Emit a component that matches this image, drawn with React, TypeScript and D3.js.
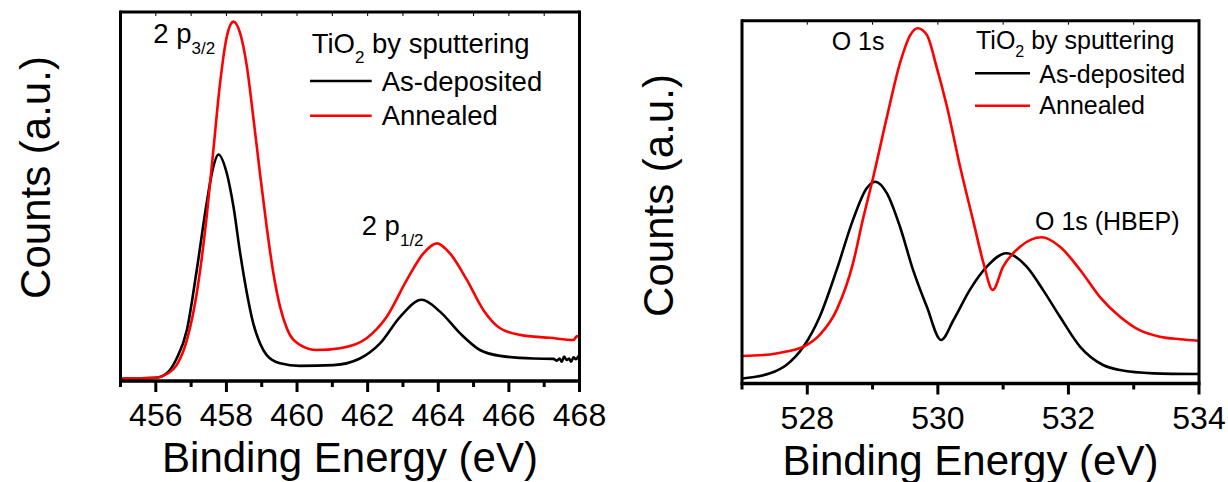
import React from 'react';
import * as d3 from 'd3';

// ---------- Ti 2p panel data (binding energy eV, counts a.u.) ----------
const tiAsDepEnergy = [455.0, 456.0, 456.31, 456.59, 456.88, 457.16, 457.44, 457.63, 457.77, 458.01, 458.2, 458.39, 458.58, 458.76, 458.95, 459.14, 459.52, 460.08, 461.03, 461.78, 462.35, 462.92, 463.53, 464.05, 464.62, 465.18, 465.75, 466.69, 467.26, 467.36, 467.43, 467.5, 467.56, 467.64, 467.71, 467.76, 467.83, 467.9, 467.97];
const tiAsDepCounts = [0.7, 0.9, 2.1, 6.1, 13.8, 30.1, 48.2, 58.1, 61.4, 56.3, 47.2, 34.6, 23.8, 15.6, 10.2, 7.0, 4.8, 4.1, 4.3, 6.1, 10.2, 17.4, 22.0, 18.8, 12.9, 8.4, 6.8, 6.1, 6.0, 5.5, 6.1, 5.2, 6.6, 5.7, 6.1, 5.2, 6.4, 5.9, 6.8];

const tiAnnEnergy = [455.0, 456.0, 456.31, 456.59, 456.88, 457.16, 457.44, 457.63, 457.82, 458.01, 458.2, 458.39, 458.58, 458.76, 458.95, 459.14, 459.33, 459.52, 459.71, 460.08, 460.56, 461.22, 461.97, 462.54, 463.11, 463.58, 463.96, 464.33, 464.81, 465.28, 465.75, 466.32, 467.17, 467.83, 467.93, 467.99];
const tiAnnCounts = [0.7, 0.9, 1.9, 4.3, 11.1, 23.8, 44.5, 62.6, 80.7, 93.3, 97.4, 94.2, 85.2, 71.6, 56.3, 41.8, 29.2, 20.1, 14.3, 9.8, 8.4, 8.9, 11.6, 17.4, 27.4, 34.6, 37.3, 34.6, 27.4, 19.2, 14.3, 12.5, 11.7, 11.1, 12.2, 11.8];

const tiMajorTicks = [456, 458, 460, 462, 464, 466, 468];
const tiMinorTicks = [455, 457, 459, 461, 463, 465, 467];
const tiTopTicks = [456, 457, 458, 459, 460, 461, 462, 463, 464, 465, 466, 467];

// ---------- O 1s panel data ----------
const oAsDepEnergy = [527.0, 527.43, 527.68, 527.94, 528.19, 528.45, 528.7, 528.91, 529.04, 529.22, 529.42, 529.62, 529.83, 530.05, 530.24, 530.49, 530.75, 531.05, 531.36, 531.61, 531.87, 532.18, 532.53, 532.79, 533.3, 533.99];
const oAsDepCounts = [1.4, 2.8, 5.1, 10.1, 18.4, 31.3, 45.1, 53.8, 55.6, 52.4, 43.2, 31.3, 21.2, 12.0, 17.5, 25.8, 32.2, 35.9, 32.2, 25.8, 18.4, 10.1, 5.1, 3.7, 2.8, 2.6];

const oAnnEnergy = [527.0, 527.43, 527.68, 527.96, 528.19, 528.45, 528.7, 528.85, 529.0, 529.22, 529.42, 529.58, 529.69, 529.83, 529.98, 530.14, 530.34, 530.55, 530.7, 530.84, 531.0, 531.26, 531.59, 531.87, 532.18, 532.48, 532.79, 533.09, 533.4, 533.71, 533.99];
const oAnnCounts = [7.6, 8.0, 8.8, 10.3, 13.4, 20.3, 33.1, 45.1, 56.1, 73.5, 88.3, 96.1, 97.9, 96.1, 87.3, 76.3, 59.8, 44.2, 33.1, 25.8, 32.2, 37.7, 40.3, 37.7, 31.3, 23.9, 18.4, 14.7, 12.9, 12.2, 11.8];

const oMajorTicks = [528, 530, 532, 534];
const oMinorTicks = [527, 529, 531, 533];
const oTopTicks = [528, 529, 530, 531, 532, 533];

const FONT = "'Liberation Sans', Arial, Helvetica, sans-serif";

type Series = { energy: number[]; counts: number[]; color: string };

type PanelProps = {
  left: number;
  right: number;
  top: number;
  bottom: number;
  xDomain: [number, number];
  major: number[];
  minor: number[];
  topTicks: number[];
  series: Series[];
  countsX: number;
  countsY: number;
};

function Panel(p: PanelProps) {
  const x = d3.scaleLinear().domain(p.xDomain).range([p.left, p.right]);
  const y = d3.scaleLinear().domain([0, 100]).range([p.bottom, p.top]);
  const line = (s: Series) =>
    d3
      .line<number>()
      .x((_, i) => x(s.energy[i]))
      .y((d) => y(d))
      .curve(d3.curveMonotoneX)(s.counts) || '';
  return (
    <g>
      {p.series.map((s, i) => (
        <path key={i} d={line(s)} fill="none" stroke={s.color} strokeWidth={2.6} strokeLinejoin="round" />
      ))}
      {/* frame */}
      <line x1={p.left} x2={p.right} y1={p.top} y2={p.top} stroke="#000" strokeWidth={3} />
      <line x1={p.left} x2={p.left} y1={p.top - 1.5} y2={p.bottom} stroke="#000" strokeWidth={3} />
      <line x1={p.right} x2={p.right} y1={p.top - 1.5} y2={p.bottom} stroke="#000" strokeWidth={3} />
      <line x1={p.left - 1.5} x2={p.right + 1.5} y1={p.bottom} y2={p.bottom} stroke="#000" strokeWidth={3.5} />
      {p.topTicks.map((t) => (
        <line key={'tt' + t} x1={x(t)} x2={x(t)} y1={p.top} y2={p.top + 4} stroke="#000" strokeWidth={1} />
      ))}
      {p.major.map((t) => (
        <line key={'mj' + t} x1={x(t)} x2={x(t)} y1={p.bottom} y2={p.bottom + 11} stroke="#000" strokeWidth={3} />
      ))}
      {p.minor.map((t) => (
        <line key={'mn' + t} x1={x(t)} x2={x(t)} y1={p.bottom} y2={p.bottom + 6} stroke="#000" strokeWidth={3} />
      ))}
      {p.major.map((t) => (
        <text key={'lb' + t} x={x(t)} y={p.bottom + 45} fontSize={32} textAnchor="middle" fontFamily={FONT}>
          {t}
        </text>
      ))}
      <text x={(p.left + p.right) / 2} y={p.bottom + 91} fontSize={42} textAnchor="middle" fontFamily={FONT}>
        Binding Energy (eV)
      </text>
      <text
        transform={`translate(${p.countsX},${p.countsY}) rotate(-90)`}
        fontSize={42}
        textAnchor="middle"
        fontFamily={FONT}
      >
        Counts (a.u.)
      </text>
    </g>
  );
}

export default function App() {
  return (
    <svg
      width={1228}
      height={482}
      viewBox="0 0 1228 482"
      style={{ position: 'absolute', left: 0, top: 0, background: '#fff' }}
      fontFamily={FONT}
    >
      <rect x={0} y={0} width={1228} height={482} fill="#fff" />
      <Panel
        left={120.5}
        right={579.5}
        top={12}
        bottom={381}
        xDomain={[455, 468]}
        major={tiMajorTicks}
        minor={tiMinorTicks}
        topTicks={tiTopTicks}
        series={[
          { energy: tiAsDepEnergy, counts: tiAsDepCounts, color: '#000000' },
          { energy: tiAnnEnergy, counts: tiAnnCounts, color: '#ff0000' },
        ]}
        countsX={49.5}
        countsY={177.5}
      />
      <Panel
        left={742}
        right={1199}
        top={20.7}
        bottom={383.5}
        xDomain={[527, 534]}
        major={oMajorTicks}
        minor={oMinorTicks}
        topTicks={oTopTicks}
        series={[
          { energy: oAsDepEnergy, counts: oAsDepCounts, color: '#000000' },
          { energy: oAnnEnergy, counts: oAnnCounts, color: '#ff0000' },
        ]}
        countsX={673}
        countsY={195.5}
      />

      {/* Left panel annotations */}
      <text x={153.3} y={43.3} fontSize={27.5}>
        2 p<tspan fontSize={17} dy={11}>3/2</tspan>
      </text>
      <text x={361.7} y={235} fontSize={27.5}>
        2 p<tspan fontSize={17} dy={11}>1/2</tspan>
      </text>
      <text x={311.7} y={53.3} fontSize={27.5}>
        TiO<tspan fontSize={17} dy={10}>2</tspan>
        <tspan dy={-10}>{' by sputtering'}</tspan>
      </text>
      <line x1={310} x2={371.7} y1={81} y2={81} stroke="#000" strokeWidth={2.6} />
      <text x={381.7} y={91} fontSize={27.5}>As-deposited</text>
      <line x1={310} x2={371.7} y1={115.7} y2={115.7} stroke="#ff0000" strokeWidth={2.6} />
      <text x={381.7} y={125} fontSize={27.5}>Annealed</text>

      {/* Right panel annotations */}
      <text x={831.7} y={50} fontSize={25}>O 1s</text>
      <text x={1035} y={230} fontSize={25}>O 1s (HBEP)</text>
      <text x={976} y={48.5} fontSize={25}>
        TiO<tspan fontSize={16} dy={8.5}>2</tspan>
        <tspan dy={-8.5}>{' by sputtering'}</tspan>
      </text>
      <line x1={975} x2={1030} y1={73.3} y2={73.3} stroke="#000" strokeWidth={2.6} />
      <text x={1039.3} y={82.5} fontSize={25}>As-deposited</text>
      <line x1={975} x2={1030} y1={105.7} y2={105.7} stroke="#ff0000" strokeWidth={2.6} />
      <text x={1039.3} y={113.5} fontSize={25}>Annealed</text>
    </svg>
  );
}
